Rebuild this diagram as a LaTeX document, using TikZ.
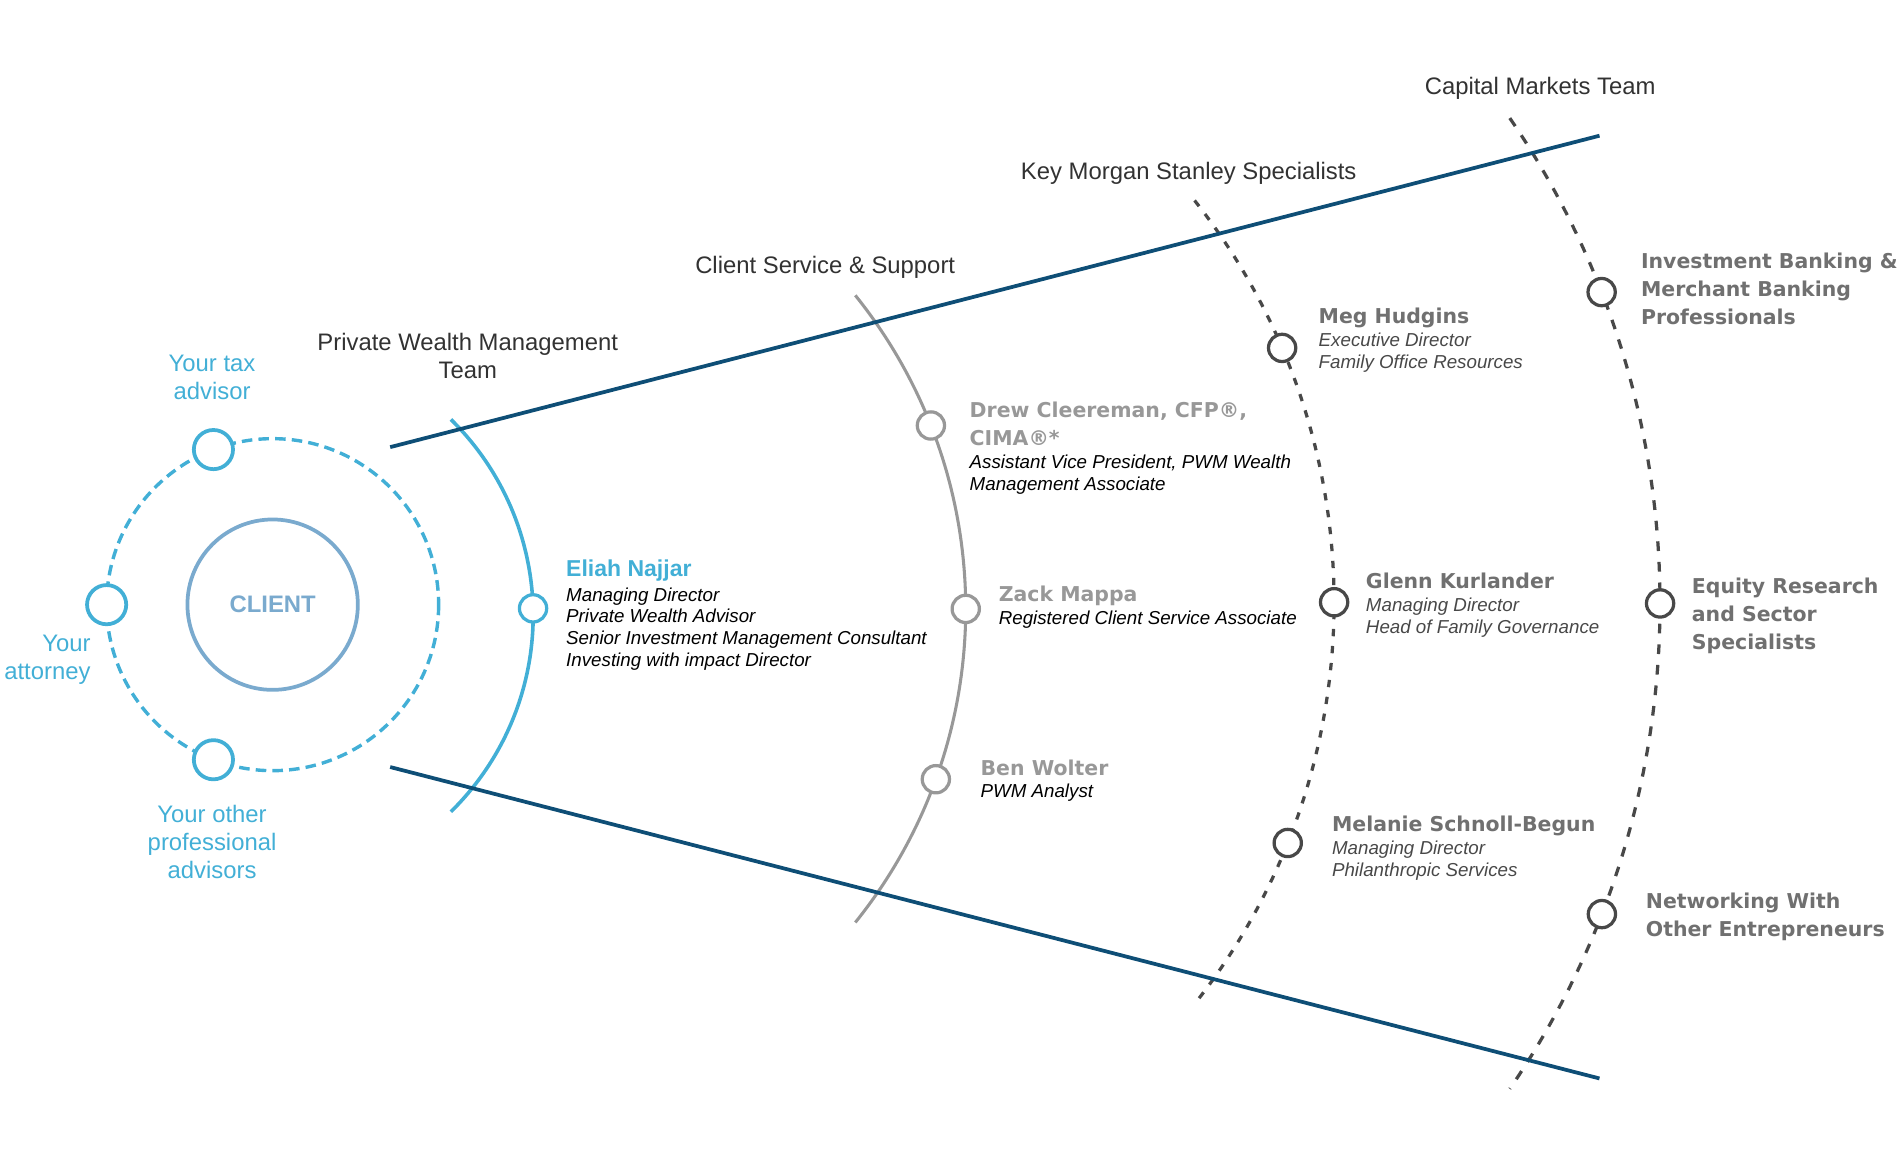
\documentclass[tikz,border=0pt]{standalone}
\usepackage{fontspec}
\setmainfont{Liberation Sans}
\newfontfamily\wideface{DejaVu Sans}
\usepackage{tikz}

\definecolor{skyblue}{RGB}{66,175,214}
\definecolor{clientblue}{RGB}{122,170,206}
\definecolor{navy}{RGB}{14,78,118}
\definecolor{lightgrey}{RGB}{152,152,152}
\definecolor{darkgrey}{RGB}{72,72,72}
\definecolor{namegrey}{RGB}{112,112,112}
\definecolor{titlegrey}{RGB}{50,50,50}

\tikzset{
	advisor/.style={shape=circle, draw=skyblue, fill=white, line width=2.2pt, minimum size=23pt, inner sep=0pt},
	member/.style={shape=circle, draw=#1, fill=white, line width=1.9pt, minimum size=16pt, inner sep=0pt},
	team/.style={font=\fontsize{14}{16.4}\selectfont, text=titlegrey, align=center, inner sep=0pt},
	bluetext/.style={font=\fontsize{14}{16.4}\selectfont, text=skyblue, inner sep=0pt},
	who/.style={font=\wideface\bfseries\fontsize{12}{16.4}\selectfont, text=#1, align=left, inner sep=0pt, anchor=base west},
	role/.style={font=\itshape\fontsize{11}{12.8}\selectfont, text=#1, align=left, inner sep=0pt, anchor=base west},
	navyline/.style={draw=navy, line width=2.2pt},
}

\begin{document}
\begin{tikzpicture}[x=0.025cm, y=-0.025cm]
	\useasboundingbox (0,0) rectangle (1568,967);
	
	\coordinate (o) at (225, 499);
	\coordinate (p) at (213, 508);
	\coordinate (q) at (384, 502.5);
	\coordinate (r) at (566, 497);
	\coordinate (s) at (661, 498);
	
	\draw[skyblue, line width=2pt, dash pattern=on 6.2pt off 3.6pt] (o) circle[radius=137];
	\draw[skyblue, line width=2.1pt] ([shift={(-45.5:227)}]p) arc[start angle=-45.5, end angle=45.5, radius=227];
	\draw[lightgrey, line width=1.8pt] ([shift={(-38.8:413)}]q) arc[start angle=-38.8, end angle=38.8, radius=413];
	\draw[darkgrey, line width=1.9pt, dash pattern=on 4.3pt off 5.7pt] ([shift={(-38.3:535)}]r) arc[start angle=-38.3, end angle=38.3, radius=535];
	\draw[darkgrey, line width=1.9pt, dash pattern=on 5.7pt off 6.4pt] ([shift={(-34.4:709)}]s) arc[start angle=-34.4, end angle=34.4, radius=709];
	
	\coordinate (a) at (322, 369);
	\coordinate (b) at (1320, 112);
	\coordinate (c) at (322, 633);
	\coordinate (d) at (1320, 890);
	\path[navyline] (a) edge (b);
	\path[navyline] (c) edge (d);
	
	\node[shape=circle, draw=clientblue, line width=2.2pt, minimum size=100pt, inner sep=0pt, text=clientblue, font=\bfseries\fontsize{14}{16}\selectfont] (cl) at (o) {CLIENT};
	\node[advisor] (tx) at ([shift={(-110.9:137)}]o) {};
	\node[advisor] (at) at ([shift={(180:137)}]o) {};
	\node[advisor] (ot) at ([shift={(110.9:137)}]o) {};
	
	\node[member=skyblue] (en) at ([shift={(-1.5:227)}]p) {};
	\node[member=lightgrey] (dc) at ([shift={(-21.5:413)}]q) {};
	\node[member=lightgrey] (zm) at ([shift={(0:413)}]q) {};
	\node[member=lightgrey] (bw) at ([shift={(19.9:413)}]q) {};
	\node[member=darkgrey] (mh) at ([shift={(-23.1:535)}]r) {};
	\node[member=darkgrey] (gk) at ([shift={(0:535)}]r) {};
	\node[member=darkgrey] (ms) at ([shift={(21.8:535)}]r) {};
	\node[member=darkgrey] (ib) at ([shift={(-21.25:709)}]s) {};
	\node[member=darkgrey] (er) at ([shift={(0:709)}]s) {};
	\node[member=darkgrey] (nw) at ([shift={(21.2:709)}]s) {};
	
	\node[team, anchor=base] at (1271, 78) {Capital Markets Team};
	\node[team, anchor=base] at (981, 148) {Key Morgan Stanley Specialists};
	\node[team, anchor=base] at (681, 226) {Client Service \& Support};
	\node[team, anchor=base] at (386, 312) {Private Wealth Management\\Team};
	
	\node[bluetext, align=center, anchor=base] at (175, 330) {Your tax\\advisor};
	\node[bluetext, align=right, anchor=base east] at (75, 561) {Your\\attorney};
	\node[bluetext, align=center, anchor=base] at (175, 725) {Your other\\professional\\advisors};
	
	\node[anchor=base west, inner sep=0pt, text=skyblue, font=\bfseries\fontsize{13.5}{16}\selectfont] at (467, 476) {Eliah Najjar};
	\node[role=black] at (467, 550) {Managing Director\\Private Wealth Advisor\\Senior Investment Management Consultant\\Investing with impact Director};
	
	\node[who=lightgrey] at (800, 368) {Drew Cleereman, CFP®,\\CIMA®*};
	\node[role=black] at (800, 405) {Assistant Vice President, PWM Wealth\\Management Associate};
	\node[who=lightgrey] at (824, 496) {Zack Mappa};
	\node[role=black] at (824, 515) {Registered Client Service Associate};
	\node[who=lightgrey] at (809, 640) {Ben Wolter};
	\node[role=black] at (809, 658) {PWM Analyst};
	
	\node[who=namegrey] at (1088, 267) {Meg Hudgins};
	\node[role=darkgrey] at (1088, 304) {Executive Director\\Family Office Resources};
	\node[who=namegrey] at (1127, 486) {Glenn Kurlander};
	\node[role=darkgrey] at (1127, 523) {Managing Director\\Head of Family Governance};
	\node[who=namegrey] at (1099, 686) {Melanie Schnoll-Begun};
	\node[role=darkgrey] at (1099, 723) {Managing Director\\Philanthropic Services};
	
	\node[who=namegrey] at (1354, 268) {Investment Banking \&\\Merchant Banking\\Professionals};
	\node[who=namegrey] at (1396, 536) {Equity Research\\and Sector\\Specialists};
	\node[who=namegrey] at (1358, 773) {Networking With\\Other Entrepreneurs};
\end{tikzpicture}
\end{document}
